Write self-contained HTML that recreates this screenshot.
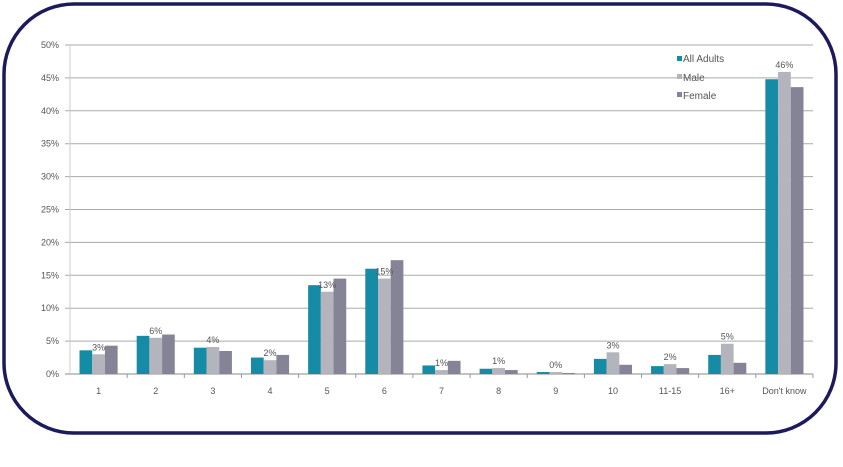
<!DOCTYPE html>
<html><head><meta charset="utf-8"><style>
body{margin:0;background:#fff;}
svg{display:block;font-family:"Liberation Sans",sans-serif;}
</style></head><body>
<svg id="chart" width="843" height="467">
<rect x="4" y="4" width="832" height="429" rx="70" ry="70" fill="#fff" stroke="#1c1a5c" stroke-width="3.5"/>
<g id="grid"></g><g id="bars"></g><g id="labels"></g>
<g font-size="10" fill="#555">
<g><rect x="677" y="56" width="5" height="5" fill="#168ba6"/><text x="683" y="62">All Adults</text></g>
<g><rect x="677" y="74" width="5" height="5" fill="#b4b4bc"/><text x="683" y="81">Male</text></g>
<g><rect x="677" y="92" width="5" height="5" fill="#858497"/><text x="683" y="99">Female</text></g>
</g>
</svg>
<script>
const categories=["1","2","3","4","5","6","7","8","9","10","11-15","16+","Don't know"];
const allAdults=[3.6,5.8,4.0,2.5,13.5,16.0,1.3,0.8,0.3,2.3,1.2,2.9,44.8];
const male=[3.0,5.5,4.1,2.1,12.5,14.5,0.6,0.9,0.3,3.3,1.5,4.6,45.9];
const female=[4.3,6.0,3.5,2.9,14.5,17.3,2.0,0.6,0.15,1.4,0.9,1.7,43.6];
const valueLabels=["3%","6%","4%","2%","13%","15%","1%","1%","0%","3%","2%","5%","46%"];
const yTicks=[0,5,10,15,20,25,30,35,40,45,50];
const NS="http://www.w3.org/2000/svg";
const L=70,R=813,T=45,B=374,MAX=50;
const cw=(R-L)/categories.length,bw=12.7;
const y=v=>B-(v/MAX)*(B-T);
const x=i=>L+i*cw;
function mk(tag,attrs,parent){const e=document.createElementNS(NS,tag);for(const k in attrs)e.setAttribute(k,attrs[k]);parent.appendChild(e);return e;}
const grid=document.getElementById('grid'),bars=document.getElementById('bars'),labels=document.getElementById('labels');
yTicks.forEach(t=>{
  const ln=mk('line',{x1:L-5,x2:R,y1:y(t),y2:y(t),stroke:t===0?'#888':'#aaa','stroke-width':1},grid);
  
  
  const tx=mk('text',{x:L-11,y:y(t)+3,'text-anchor':'end','font-size':9,fill:'#555'},grid);
  tx.textContent=t+'%';
  
  
});
const ax=mk('line',{x1:L,x2:L,y1:T,y2:B,stroke:'#ccc'},grid);


categories.forEach((c,i)=>{
  const tk=mk('line',{x1:x(i+1),x2:x(i+1),y1:B,y2:B+4,stroke:'#999'},grid);
  
  
  const cx=x(i)+cw/2;
  const tl=mk('text',{x:cx,y:B+20,'text-anchor':'middle','font-size':9,fill:'#555'},labels);
  tl.textContent=c;
  
  
  [[allAdults,'#168ba6','all-adults'],[male,'#b4b4bc','male'],[female,'#858497','female']].forEach((s,j)=>{
    const v=s[0][i];
    const r=mk('rect',{x:cx-1.5*bw+j*bw,y:y(v),width:bw,height:B-y(v),fill:s[1]},bars);
    
    
  });
  const top=Math.max(allAdults[i],male[i],female[i]);
  const vl=mk('text',{x:cx,y:y(male[i])-4,'text-anchor':'middle','font-size':9,fill:'#555'},labels);
  vl.textContent=valueLabels[i];
  
  
});
</script>
</body></html>
